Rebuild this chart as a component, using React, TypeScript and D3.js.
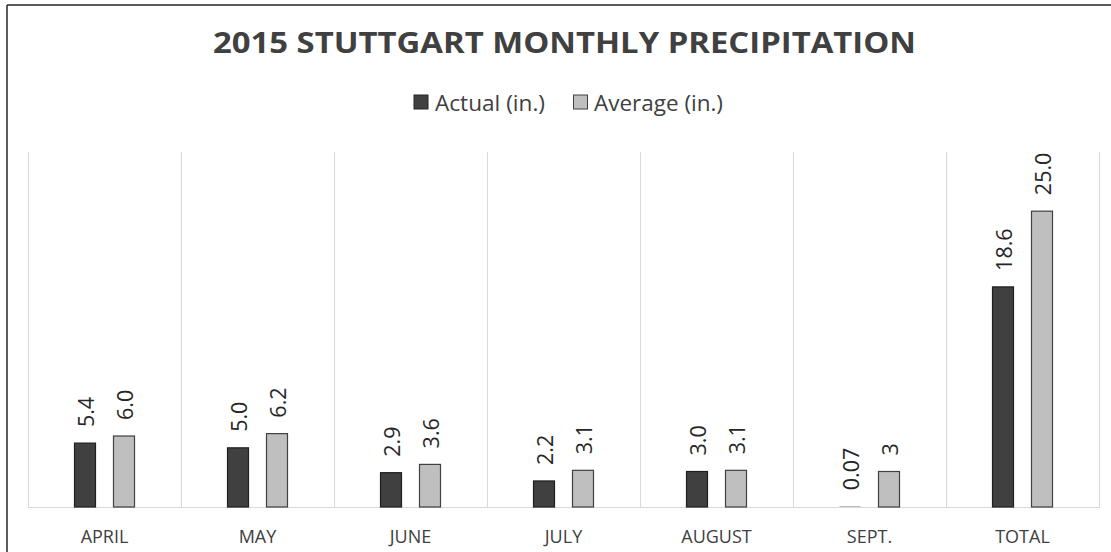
import React from "react";
import * as d3 from "d3";

const categories = ["APRIL", "MAY", "JUNE", "JULY", "AUGUST", "SEPT.", "TOTAL"];
const seriesNames = ["Actual (in.)", "Average (in.)"];
const actualValues = [5.4, 5.0, 2.9, 2.2, 3.0, 0.07, 18.6];
const averageValues = [6.0, 6.2, 3.6, 3.1, 3.1, 3, 25.0];
const actualLabels = ["5.4", "5.0", "2.9", "2.2", "3.0", "0.07", "18.6"];
const averageLabels = ["6.0", "6.2", "3.6", "3.1", "3.1", "3", "25.0"];
const yDomain = [0, 30];
const titleText = "2015 STUTTGART MONTHLY PRECIPITATION";

const W = 1111;
const H = 552;
const FONT = "'Open Sans', 'Noto Sans', sans-serif";
const TEXT = "#404040";
const FILLS = ["#404040", "#bfbfbf"];

export default function App() {
  const plotLeft = 28;
  const plotRight = 1099;
  const plotTop = 152;
  const plotBottom = 507;

  const x0 = d3.scaleBand<string>().domain(categories).range([plotLeft, plotRight]).padding(0);
  const x1 = d3
    .scaleBand<string>()
    .domain(seriesNames)
    .range([-30, 30])
    .paddingInner(18 / 39)
    .paddingOuter(0);
  const y = d3.scaleLinear().domain(yDomain).range([plotBottom, plotTop]);

  const series = [
    { name: seriesNames[0], values: actualValues, labels: actualLabels },
    { name: seriesNames[1], values: averageValues, labels: averageLabels },
  ];

  const gridXs = [...categories.map((c) => x0(c) as number), plotRight];

  return (
    <svg
      width={W}
      height={H}
      style={{ position: "absolute", left: 0, top: 0, background: "#fff" }}
    >
      <rect x={0} y={0} width={W} height={H} fill="#fff" />
      {/* outer border */}
      <line x1={7} y1={5} x2={W} y2={5} stroke="#262626" strokeWidth={1.5} />
      <line x1={7} y1={5} x2={7} y2={H} stroke="#262626" strokeWidth={1.5} />

      {/* title */}
      <text
        x={564.5}
        y={53}
        textAnchor="middle"
        fontFamily={FONT}
        fontWeight={700}
        fontSize={29}
        fill={TEXT}
        textLength={703}
        lengthAdjust="spacingAndGlyphs"
      >
        {titleText}
      </text>

      {/* legend */}
      <g fontFamily={FONT} fontSize={21} fill={TEXT}>
        <rect x={414} y={95} width={14} height={14} fill={FILLS[0]} stroke="#262626" strokeWidth={1} />
        <text x={435} y={111} textLength={110} lengthAdjust="spacingAndGlyphs">
          {seriesNames[0]}
        </text>
        <rect x={573.5} y={95} width={14} height={14} fill={FILLS[1]} stroke="#404040" strokeWidth={1} />
        <text x={594} y={111} textLength={129} lengthAdjust="spacingAndGlyphs">
          {seriesNames[1]}
        </text>
      </g>

      {/* vertical gridlines */}
      {gridXs.map((gx, i) => (
        <line
          key={"g" + i}
          x1={Math.round(gx) + 0.5}
          x2={Math.round(gx) + 0.5}
          y1={plotTop}
          y2={plotBottom}
          stroke="#d9d9d9"
          strokeWidth={1}
        />
      ))}
      {/* axis line */}
      <line x1={plotLeft} x2={plotRight + 1} y1={plotBottom + 0.5} y2={plotBottom + 0.5} stroke="#d9d9d9" strokeWidth={1.2} />

      {/* bars */}
      {categories.map((c, ci) => {
        const cx = (x0(c) as number) + x0.bandwidth() / 2;
        return (
          <g key={c}>
            {series.map((s, si) => {
              const bx = cx + (x1(s.name) as number);
              const bw = x1.bandwidth();
              const v = s.values[ci];
              const top = y(v);
              const h = plotBottom - top;
              const tiny = h < 2;
              return (
                <g key={s.name}>
                  <rect
                    x={bx}
                    y={tiny ? plotBottom - 1 : top}
                    width={bw}
                    height={tiny ? 1 : h}
                    fill={tiny ? "#bdbdbd" : FILLS[si]}
                    stroke={tiny ? "none" : si === 0 ? "#1f1f1f" : "#404040"}
                    strokeWidth={1.2}
                  />
                  <text
                    transform={`translate(${bx + bw / 2},${top - 16}) rotate(-90)`}
                    textAnchor="start"
                    dominantBaseline="central"
                    fontFamily={FONT}
                    fontSize={21.5}
                    fill="#262626"
                  >
                    {s.labels[ci]}
                  </text>
                </g>
              );
            })}
            <text
              x={cx}
              y={543}
              textAnchor="middle"
              fontFamily={FONT}
              fontSize={18}
              fill={TEXT}
            >
              {c}
            </text>
          </g>
        );
      })}
    </svg>
  );
}
